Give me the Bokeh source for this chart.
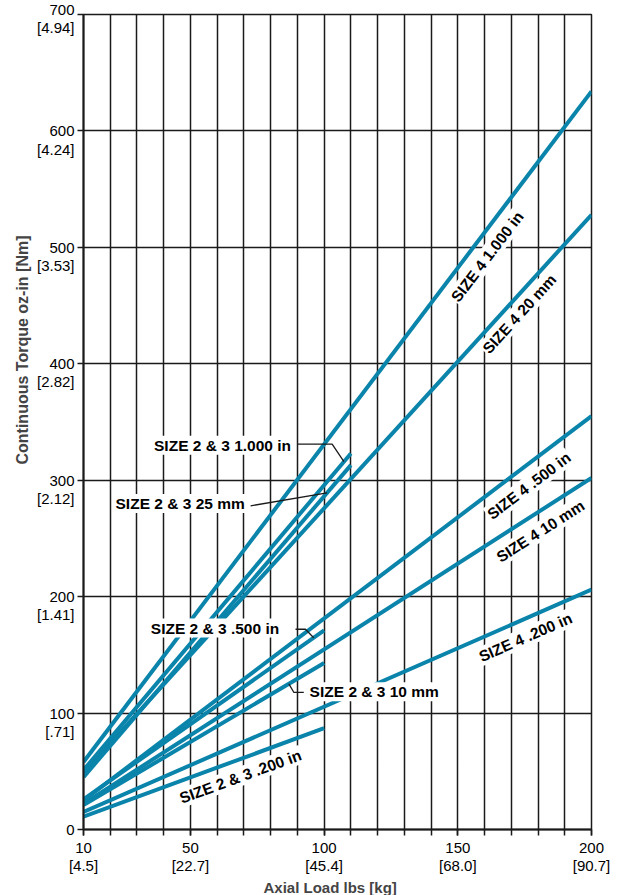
import math
from bokeh.plotting import figure
from bokeh.models import Label, FixedTicker, Range1d, Title
from bokeh.embed import file_html
from bokeh.resources import INLINE

# ---- data: continuous torque (oz-in) vs axial load (lbs), straight-line curves ----
size4_load = [10, 200]
size4_1000in = [58, 634]
size4_20mm = [49, 528]
size4_500in = [25, 355]
size4_10mm = [22, 302]
size4_200in = [15, 206]

size23_load_long = [10, 110]
size23_1000in = [51, 323]
size23_25mm = [45, 313]

size23_load_short = [10, 100]
size23_500in = [26, 171]
size23_10mm = [21, 143]
size23_200in = [11, 87]

# ---- tick labels ----
y_ticks = [0, 100, 200, 300, 400, 500, 600, 700]
y_nm = ["", "[.71]", "[1.41]", "[2.12]", "[2.82]", "[3.53]", "[4.24]", "[4.94]"]
x_grid = list(range(10, 201, 10))
x_ticks = [10, 50, 100, 150, 200]
x_kg = ["[4.5]", "[22.7]", "[45.4]", "[68.0]", "[90.7]"]

LINE = "#0a84aa"
INK = "#1a1a1a"
FONT = "Liberation Sans"

W, H = 619, 895
BL, BR, BT, BB = 83, 28, 14, 65
X0, X1, Y0, Y1 = 10, 200, 0, 700
ppx = (W - BL - BR) / (X1 - X0)
ppy = (H - BT - BB) / (Y1 - Y0)

p = figure(width=W, height=H, output_backend="svg", toolbar_location=None,
           x_range=Range1d(X0, X1), y_range=Range1d(Y0, Y1),
           min_border_left=BL, min_border_right=BR,
           min_border_top=BT, min_border_bottom=BB)
p.background_fill_color = "white"
p.border_fill_color = "white"
p.outline_line_color = INK
p.outline_line_width = 1.5

# x axis: labelled ticks at 10/50/100/150/200, plain ticks every 10
p.xaxis.ticker = FixedTicker(ticks=x_ticks, minor_ticks=x_grid)
p.xaxis.major_label_overrides = {v: f"{v}\n{kg}" for v, kg in zip(x_ticks, x_kg)}
p.xaxis.minor_tick_out = 6
p.xaxis.minor_tick_in = 0
p.xaxis.minor_tick_line_color = INK
p.xaxis.minor_tick_line_width = 1.5

FIG_SP = "\u2007"   # digit-wide space
PUNC_SP = "\u2008"  # period-wide space


def pad_right(top, bottom):
    # pad the oz-in value so both lines end flush right
    digits = lambda s: sum(c.isdigit() for c in s)
    narrow = lambda s: len(s) - digits(s)
    d = digits(bottom) - digits(top)
    n = narrow(bottom) - narrow(top)
    return FIG_SP * max(d, 0) + PUNC_SP * max(n, 0) + top


def y_label(v, nm):
    if not nm:
        return str(v)
    top = pad_right(str(v), nm)
    if v == y_ticks[-1]:
        return f"{top}\n{nm}"
    # a leading blank line keeps the oz-in value level with its tick
    return f" \n{top}\n{nm}"


p.yaxis.ticker = FixedTicker(ticks=y_ticks)
p.yaxis.major_label_overrides = {v: y_label(v, nm) for v, nm in zip(y_ticks, y_nm)}
p.yaxis.major_label_text_align = "right"
p.yaxis.minor_tick_out = 0
p.yaxis.minor_tick_in = 0

for ax in (p.xaxis, p.yaxis):
    ax.major_tick_out = 6
    ax.major_tick_in = 0
    ax.axis_line_color = INK
    ax.axis_line_width = 2
    ax.major_tick_line_color = INK
    ax.major_tick_line_width = 1.5
    ax.major_label_standoff = 3
    ax.major_label_text_font = FONT
    ax.major_label_text_font_size = "15px"
    ax.major_label_text_color = "black"
    ax.major_label_text_line_height = 1.07

p.xgrid.ticker = FixedTicker(ticks=x_grid)
p.ygrid.ticker = FixedTicker(ticks=y_ticks)
for g in (p.xgrid, p.ygrid):
    g.grid_line_color = INK
    g.grid_line_width = 1.5
    g.grid_line_alpha = 1.0

# axis titles
p.add_layout(Title(text="Continuous Torque oz-in  [Nm]", align="left", offset=365,
                   text_font=FONT, text_font_style="bold", text_font_size="16px",
                   standoff=6), "left")
p.add_layout(Title(text="Axial Load lbs [kg]", align="left", offset=180,
                   text_font=FONT, text_font_style="bold", text_font_size="15px",
                   standoff=0), "below")


def at(xs, ys, x):
    return ys[0] + (ys[1] - ys[0]) * (x - xs[0]) / (xs[1] - xs[0])


def screen_angle(xs, ys):
    return math.atan((ys[1] - ys[0]) / (xs[1] - xs[0]) * ppy / ppx)


series = [
    (size4_load, size4_1000in), (size4_load, size4_20mm),
    (size4_load, size4_500in), (size4_load, size4_10mm), (size4_load, size4_200in),
    (size23_load_long, size23_1000in), (size23_load_long, size23_25mm),
    (size23_load_short, size23_500in), (size23_load_short, size23_10mm),
    (size23_load_short, size23_200in),
]
for xs, ys in series:
    p.line(xs, ys, line_color=LINE, line_width=4)

# leader lines from the horizontal labels to their curves
leaders = [
    ([89.9, 103.0, 107.4], [331, 331, at(size23_load_long, size23_1000in, 107.4)]),
    ([72.5, 101.1], [278, at(size23_load_long, size23_25mm, 101.1)]),
    ([89.3, 93.0, 96.1], [172, 172, at(size23_load_short, size23_500in, 96.1)]),
    ([92.4, 88.7, 86.8], [117.7, 117.7, at(size23_load_short, size23_10mm, 86.8)]),
]
for lx, ly in leaders:
    p.line(lx, ly, line_color=INK, line_width=1.3)


def label(x, y, text, angle=0.0, align="center"):
    p.add_layout(Label(x=x, y=y, text=text, angle=angle, text_align=align,
                       text_baseline="middle", text_font=FONT,
                       text_font_style="bold", text_font_size="15.5px",
                       text_color="black", background_fill_color="white",
                       padding=1))


# labels running along the curves
along = [
    (size4_load, size4_1000in, 161.0, 23.7, "SIZE 4 1.000 in"),
    (size4_load, size4_20mm, 173.0, 17.0, "SIZE 4 20 mm"),
    (size4_load, size4_500in, 176.6, 19.0, "SIZE 4 .500 in"),
    (size4_load, size4_10mm, 180.9, 17.6, "SIZE 4 10 mm"),
    (size4_load, size4_200in, 175.3, 16.0, "SIZE 4 .200 in"),
    (size23_load_short, size23_200in, 68.7, 15.0, "SIZE 2 & 3 .200 in"),
]
for xs, ys, lx, dy, txt in along:
    label(lx, at(xs, ys, lx) - dy, txt, angle=screen_angle(xs, ys))

# horizontal callout labels
label(36.0, 330, "SIZE 2 & 3 1.000 in", align="left")
label(21.6, 280, "SIZE 2 & 3 25 mm", align="left")
label(34.8, 173, "SIZE 2 & 3 .500 in", align="left")
label(94.2, 118.4, "SIZE 2 & 3 10 mm", align="left")

open("out.html", "w").write(file_html(p, INLINE))
